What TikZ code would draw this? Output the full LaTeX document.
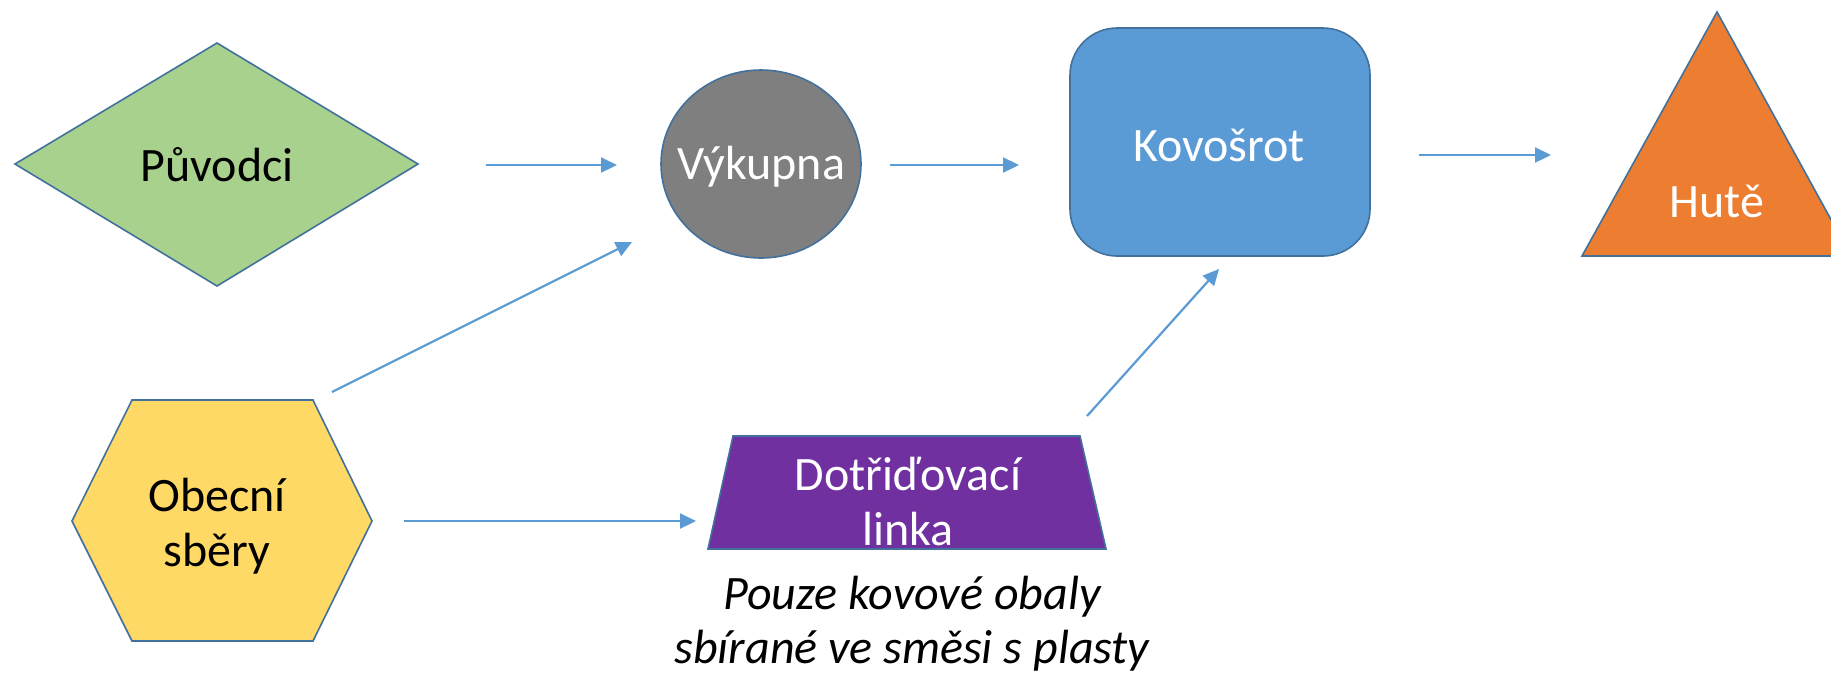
\documentclass[tikz,border=0pt]{standalone}
\usepackage{fontspec}
\setmainfont{Carlito}
\usetikzlibrary{arrows.meta}
\definecolor{edgec}{HTML}{41719C}
\definecolor{arrowc}{HTML}{5B9BD5}
\definecolor{greenf}{HTML}{A9D18E}
\definecolor{greyf}{HTML}{7F7F7F}
\definecolor{bluef}{HTML}{5B9BD5}
\definecolor{orangef}{HTML}{ED7D31}
\definecolor{yellowf}{HTML}{FFD966}
\definecolor{purplef}{HTML}{7030A0}
\tikzset{
  shapebox/.style={draw=edgec, line width=0.8pt, line join=miter},
  lbl/.style={inner sep=0pt, align=center, font=\fontsize{24}{27.5}\selectfont},
  flow/.style={draw=arrowc, line width=1.1pt, -{Triangle[length=8pt,width=7.5pt]}},
}
\begin{document}
\begin{tikzpicture}[x=0.5pt,y=-0.5pt]
\useasboundingbox (0,0) rectangle (1831,677);
\clip (0,0) rectangle (1831,677);
% shapes
\path[shapebox, fill=greenf] (15,164) -- (217,43) -- (418,164) -- (217,286) -- cycle;
\path[shapebox, fill=greyf] (761,164) ellipse [x radius=100, y radius=94];
\path[shapebox, fill=bluef, rounded corners=23.5pt] (1070,28) rectangle (1370,256);
\path[shapebox, fill=orangef] (1717,12) -- (1851,256) -- (1582,256) -- cycle;
\path[shapebox, fill=yellowf] (132,400) -- (313,400) -- (372,521) -- (313,641) -- (132,641) -- (72,521) -- cycle;
\path[shapebox, fill=purplef] (733,436) -- (1080,436) -- (1106,549) -- (708,549) -- cycle;
% labels
\node[lbl] (puv) at (217,165) {Původci};
\node[lbl, text=white] (vyk) at (761,167) {Výkupna};
\node[lbl, text=white] (kov) at (1219,145) {Kovošrot};
\node[lbl, text=white] (hut) at (1717,201) {Hutě};
\node[lbl] (obe) at (217,526) {Obecní\\sběry};
\node[lbl, text=white] (dot) at (908,501) {Dotřiďovací\\linka};
\node[lbl, font=\fontsize{24}{27}\selectfont\itshape] (pozn) at (912,624) {Pouze kovové obaly\\sbírané ve směsi s plasty};
% connector ends
\coordinate (a1s) at (486,165); \coordinate (a1e) at (617,165);
\coordinate (a2s) at (890,165); \coordinate (a2e) at (1019,165);
\coordinate (a3s) at (1419,155); \coordinate (a3e) at (1551,155);
\coordinate (a4s) at (332,392); \coordinate (a4e) at (632,242);
\coordinate (a5s) at (404,521); \coordinate (a5e) at (696,521);
\coordinate (a6s) at (1087,416); \coordinate (a6e) at (1219,269);
\draw[flow] (a1s) -- (a1e);
\draw[flow] (a2s) -- (a2e);
\draw[flow] (a3s) -- (a3e);
\draw[flow] (a4s) -- (a4e);
\draw[flow] (a5s) -- (a5e);
\draw[flow] (a6s) -- (a6e);
\end{tikzpicture}
\end{document}
